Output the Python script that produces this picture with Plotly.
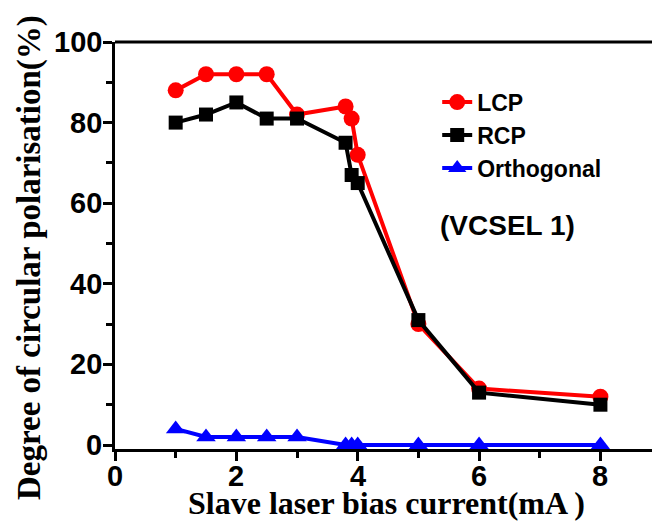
import plotly.graph_objects as go

current = [1, 1.5, 2, 2.5, 3, 3.8, 3.9, 4, 5, 6, 8]
lcp = [88, 92, 92, 92, 82, 84, 81, 72, 30, 14, 12]
rcp = [80, 82, 85, 81, 81, 75, 67, 65, 31, 13, 10]
orthogonal = [4, 2, 2, 2, 2, 0, 0, 0, 0, 0, 0]

x_ticks = [0, 2, 4, 6, 8]
y_ticks = [0, 20, 40, 60, 80, 100]

fig = go.Figure()
fig.add_trace(go.Scatter(x=current, y=orthogonal, name="<b>Orthogonal</b>", mode="lines+markers",
                         line=dict(color="#0000FF", width=4),
                         marker=dict(symbol="triangle-up", size=17, color="#0000FF"),
                         legendrank=3))
fig.add_trace(go.Scatter(x=current, y=lcp, name="<b>LCP</b>", mode="lines+markers",
                         line=dict(color="#FF0000", width=4),
                         marker=dict(symbol="circle", size=16, color="#FF0000"),
                         legendrank=1))
fig.add_trace(go.Scatter(x=current, y=rcp, name="<b>RCP</b>", mode="lines+markers",
                         line=dict(color="#000000", width=4),
                         marker=dict(symbol="square", size=14, color="#000000"),
                         legendrank=2))

H = 407.0
W = 537.0
tickfont = dict(family="Liberation Sans, Arial", size=29, color="black")
annotations = []
for v in x_ticks:
    annotations.append(dict(text="<b>%d</b>" % v, xref="x", yref="paper", x=v, y=-(476 - 449) / H,
                            xanchor="center", yanchor="middle", showarrow=False, font=tickfont))
for v in y_ticks:
    annotations.append(dict(text="<b>%d</b>" % v, xref="paper", yref="y", x=-(115 - 104) / W, y=v,
                            xanchor="right", yanchor="middle", showarrow=False, font=tickfont))

annotations += [
    dict(text="<b>(VCSEL 1)</b>", xref="x", yref="y", x=6.47, y=54.5, showarrow=False,
         font=dict(family="Liberation Sans, Arial", size=28, color="black")),
    dict(text="<b>Slave laser bias current(mA )</b>", xref="paper", yref="paper",
         x=(386 - 115) / W, y=-(503 - 449) / H, yanchor="middle", showarrow=False,
         font=dict(family="Liberation Serif, Times New Roman", size=32, color="black")),
    dict(text="<b>Degree of circular polarisation(%)</b>", xref="paper", yref="paper",
         x=-(115 - 29) / W, y=(449 - 258) / H, textangle=-90, showarrow=False,
         xanchor="center", yanchor="middle",
         font=dict(family="Liberation Serif, Times New Roman", size=33, color="black")),
]

fig.update_layout(
    width=652, height=521,
    margin=dict(l=115, r=0, t=42, b=72),
    plot_bgcolor="white", paper_bgcolor="white",
    showlegend=True,
    legend=dict(x=0.60, y=0.905, xanchor="left", yanchor="top",
                font=dict(family="Liberation Sans, Arial", size=23, color="black"),
                bgcolor="rgba(0,0,0,0)", tracegroupgap=0, itemwidth=30),
    xaxis=dict(range=[0, 8.85], tickmode="linear", tick0=0, dtick=2,
               showgrid=False, zeroline=False, showticklabels=False,
               showline=True, linecolor="black", linewidth=3,
               ticks="outside", ticklen=9, tickwidth=3, tickcolor="black",
               minor=dict(tick0=0, dtick=1, ticks="outside",
                          ticklen=6, tickwidth=3, tickcolor="black", showgrid=False)),
    yaxis=dict(range=[-0.99, 100], tickmode="linear", tick0=0, dtick=20,
               showgrid=False, zeroline=False, showticklabels=False,
               showline=True, linecolor="black", linewidth=3,
               ticks="outside", ticklen=9, tickwidth=3, tickcolor="black",
               minor=dict(tick0=0, dtick=10, ticks="outside",
                          ticklen=6, tickwidth=3, tickcolor="black", showgrid=False)),
    shapes=[dict(type="line", xref="paper", yref="paper", x0=0, x1=1, y0=1, y1=1,
                 line=dict(color="black", width=3))],
    annotations=annotations,
)

fig.write_html("out.html")
